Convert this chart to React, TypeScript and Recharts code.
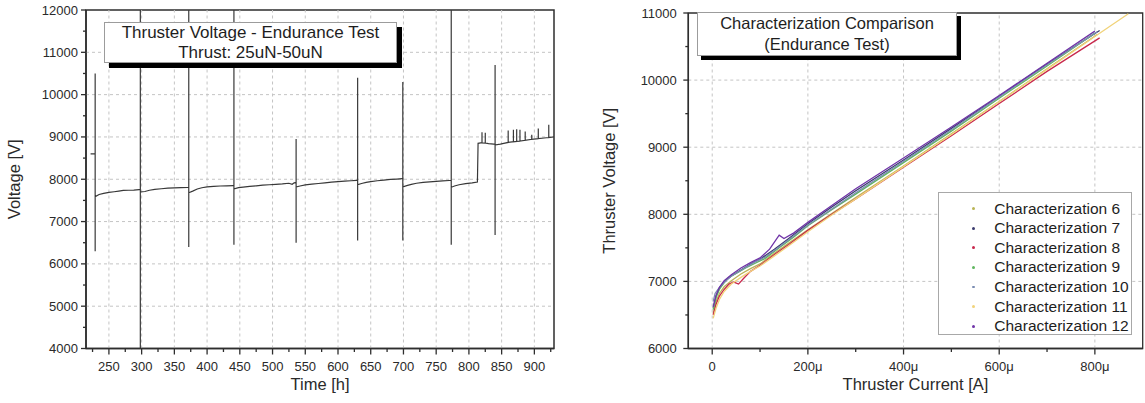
import React from 'react';
import { LineChart, Line, XAxis, YAxis, ReferenceLine, ReferenceArea, Legend, Label } from 'recharts';

const FONT = '"Liberation Sans", Arial, Helvetica, sans-serif';
const AXIS = '#2e2e2e';
const GRID = '#c4c4c4';
const TXT = '#2a2a2a';

// ---------------- Left chart: endurance test trace ----------------
// [time h, voltage V]
const enduranceTrace: [number, number][] = [
  [222, 8600], [229, 8600], [229, 10500], [229, 6300], [229, 7590],
  [235, 7640], [242, 7665], [250, 7690], [258, 7705], [265, 7720], [272, 7735], [280, 7740], [288, 7745], [296, 7755],
  [298, 7755], [298, 12000], [298, 4000], [298, 7700],
  [305, 7710], [312, 7740], [320, 7760], [330, 7775], [340, 7790], [350, 7795], [360, 7800], [370, 7805],
  [372, 7805], [372, 12000], [372, 6400], [372, 7680],
  [378, 7720], [385, 7770], [392, 7800], [400, 7820], [410, 7830], [420, 7840], [430, 7845], [440, 7850],
  [441, 7850], [441, 12000], [441, 6450], [441, 7770],
  [448, 7800], [455, 7815], [465, 7830], [475, 7845], [485, 7860], [495, 7870], [505, 7880], [515, 7890], [525, 7905], [530, 7880], [533, 7915], [535, 7920],
  [536, 7920], [536, 8950], [536, 6500], [536, 7820],
  [542, 7840], [550, 7865], [560, 7885], [570, 7900], [580, 7915], [590, 7930], [600, 7945], [610, 7955], [620, 7965], [628, 7975],
  [630, 7975], [630, 10400], [630, 6550], [630, 7870],
  [636, 7900], [643, 7925], [650, 7945], [660, 7965], [670, 7980], [680, 7995], [690, 8005], [698, 8015],
  [699, 8015], [699, 10300], [699, 6550], [699, 7820],
  [705, 7850], [712, 7880], [720, 7905], [730, 7925], [740, 7940], [750, 7950], [760, 7960], [770, 7970],
  [773, 7970], [773, 12000], [773, 6450], [773, 7810],
  [778, 7840], [785, 7870], [795, 7895], [805, 7915], [813, 7935],
  [814, 8850], [818, 8860], [820, 8860], [820, 9110], [820, 8860], [825, 8855], [825, 9100], [825, 8855], [830, 8840], [838, 8830],
  [840, 8830], [840, 10700], [840, 6680], [840, 8810],
  [848, 8830], [855, 8855], [860, 8870], [860, 9150], [860, 8870], [866, 8885], [868, 8885], [868, 9170], [868, 8885],
  [873, 8895], [873, 9180], [873, 8895], [878, 8900], [878, 9170], [878, 8900], [886, 8920], [886, 9130], [886, 8920],
  [896, 8945], [896, 9050], [896, 8945], [906, 8960], [906, 9200], [906, 8960], [915, 8975], [922, 8985], [922, 9290], [922, 8985], [930, 9000],
];

const timeDomain: [number, number] = [215, 930];
const timeMajorTicks = [250, 300, 350, 400, 450, 500, 550, 600, 650, 700, 750, 800, 850, 900];
const timeMinorTicks = [225, 275, 325, 375, 425, 475, 525, 575, 625, 675, 725, 775, 825, 875, 925];
const voltDomain: [number, number] = [4000, 12000];
const voltMajorTicks = [4000, 5000, 6000, 7000, 8000, 9000, 10000, 11000, 12000];
const voltMinorTicks = [4500, 5500, 6500, 7500, 8500, 9500, 10500, 11500];
const voltGrid = [5000, 6000, 7000, 8000, 9000, 10000, 11000];

// ---------------- Right chart: characterization comparison ----------------
// [current µA, voltage V]
const char6: [number, number][] = [[2, 6520], [8, 6700], [15, 6820], [25, 6920], [40, 7010], [60, 7110], [80, 7190], [100, 7260], [130, 7420], [160, 7570], [200, 7770], [250, 8010], [300, 8250], [400, 8720], [500, 9200], [600, 9680], [700, 10170], [805, 10680]];
const char7: [number, number][] = [[2, 6600], [8, 6780], [15, 6900], [25, 6990], [40, 7080], [60, 7170], [80, 7260], [100, 7330], [130, 7480], [160, 7640], [200, 7860], [250, 8110], [300, 8350], [400, 8810], [500, 9280], [600, 9760], [700, 10240], [810, 10740]];
const char8: [number, number][] = [[2, 6500], [8, 6660], [15, 6780], [25, 6880], [35, 6960], [45, 6990], [55, 6960], [65, 7040], [80, 7150], [100, 7240], [130, 7400], [160, 7550], [200, 7760], [250, 8000], [300, 8230], [400, 8700], [500, 9170], [600, 9650], [700, 10130], [810, 10630]];
const char9: [number, number][] = [[2, 6580], [8, 6760], [15, 6880], [25, 6980], [35, 7060], [50, 7120], [70, 7200], [90, 7270], [110, 7340], [140, 7500], [170, 7660], [200, 7830], [250, 8070], [300, 8300], [400, 8770], [500, 9240], [600, 9730], [700, 10210], [800, 10700]];
const char10: [number, number][] = [[2, 6700], [6, 6820], [12, 6880], [20, 6950], [30, 7020], [40, 7080], [55, 7140], [70, 7210], [90, 7290], [110, 7360], [130, 7460], [160, 7620], [200, 7840], [250, 8080], [300, 8320], [400, 8790], [500, 9260], [600, 9750], [700, 10230], [805, 10720]];
const char11: [number, number][] = [[2, 6450], [8, 6600], [15, 6730], [25, 6850], [40, 6960], [60, 7060], [80, 7150], [100, 7230], [130, 7380], [160, 7530], [200, 7740], [250, 7990], [300, 8230], [400, 8710], [500, 9190], [600, 9680], [700, 10160], [800, 10650], [870, 10990]];
const char12: [number, number][] = [[2, 6620], [8, 6790], [15, 6910], [25, 7010], [40, 7100], [60, 7200], [80, 7280], [100, 7350], [120, 7480], [140, 7690], [150, 7640], [170, 7720], [200, 7880], [250, 8130], [300, 8380], [400, 8840], [500, 9300], [600, 9770], [700, 10250], [800, 10730]];

const charNames = ['Characterization 6', 'Characterization 7', 'Characterization 8', 'Characterization 9', 'Characterization 10', 'Characterization 11', 'Characterization 12'];
const charColors = ['#b9b455', '#3b3b6e', '#c8284c', '#5fb65f', '#7a8cb2', '#f1d37a', '#7034a8'];
const charSeries = [char6, char7, char8, char9, char10, char11, char12];

const currentDomain: [number, number] = [-50, 900];
const currentMajorTicks = [0, 200, 400, 600, 800];
const currentMinorTicks = [100, 300, 500, 700];
const tvDomain: [number, number] = [6000, 11000];
const tvMajorTicks = [6000, 7000, 8000, 9000, 10000, 11000];
const tvMinorTicks = [6500, 7500, 8500, 9500, 10500];
const tvGrid = [7000, 8000, 9000, 10000];

// ---------------- helpers ----------------
const makeXTick = (majors: number[], fmt: (v: number) => string, dy: number) => (props: any) => {
  const { x, y, payload } = props;
  const v = payload.value;
  const major = majors.includes(v);
  return (
    <g>
      <line x1={x} y1={y} x2={x} y2={y + (major ? 6 : 3.5)} stroke={AXIS} strokeWidth={1.3} />
      {major && (
        <text x={x} y={y + dy} textAnchor="middle" fontSize={13} fontFamily={FONT} fill={TXT}>{fmt(v)}</text>
      )}
    </g>
  );
};

const makeYTick = (majors: number[], gap: number) => (props: any) => {
  const { x, y, payload } = props;
  const v = payload.value;
  const major = majors.includes(v);
  return (
    <g>
      <line x1={x} y1={y} x2={x - (major ? 5 : 3)} y2={y} stroke={AXIS} strokeWidth={1.3} />
      {major && (
        <text x={x - gap} y={y + 4.5} textAnchor="end" fontSize={13} fontFamily={FONT} fill={TXT}>{v}</text>
      )}
    </g>
  );
};

const xTitle = (text: string, dy: number) => (props: any) => {
  const vb = props.viewBox;
  return (
    <text x={vb.x + vb.width / 2} y={vb.y + dy} textAnchor="middle" fontSize={16.5} fontFamily={FONT} fill={TXT}>{text}</text>
  );
};

const yTitle = (text: string, dx: number) => (props: any) => {
  const vb = props.viewBox;
  const cx = vb.x + dx;
  const cy = vb.y + vb.height / 2;
  return (
    <text x={cx} y={cy} transform={`rotate(-90 ${cx} ${cy})`} textAnchor="middle" dominantBaseline="central" fontSize={16.5} fontFamily={FONT} fill={TXT}>{text}</text>
  );
};

const legendContent = (props: any) => {
  const payload = [...(props.payload || [])].sort(
    (a: any, b: any) => charNames.indexOf(a.value) - charNames.indexOf(b.value)
  );
  return (
    <div style={{ width: 194, height: 143, boxSizing: 'border-box', border: '1px solid #a8a8a8', background: '#fff', paddingTop: 6, fontFamily: FONT }}>
      {payload.map((e: any) => (
        <div key={e.value} style={{ height: 19.6, position: 'relative' }}>
          <span style={{ position: 'absolute', left: 33, top: 8.5, width: 2.8, height: 2.8, borderRadius: 2, background: e.color }} />
          <span style={{ position: 'absolute', left: 55, top: 0, fontSize: 15.5, lineHeight: '19.6px', color: '#1e1e1e', whiteSpace: 'nowrap' }}>{e.value}</span>
        </div>
      ))}
    </div>
  );
};

export default function App() {
  const leftData = enduranceTrace.map(([t, v]) => ({ t, v }));
  return (
    <div style={{ position: 'absolute', left: 0, top: 0, width: 1145, height: 403, background: '#fff', fontFamily: FONT, overflow: 'hidden' }}>
      {/* Left chart */}
      <div style={{ position: 'absolute', left: 0, top: 0 }}>
        <LineChart width={560} height={403} data={leftData} margin={{ top: 10, right: 6, bottom: 0, left: 0 }}>
          {timeMajorTicks.map((t) => (
            <ReferenceLine key={'gx' + t} x={t} stroke={GRID} strokeDasharray="3 3" strokeWidth={1} />
          ))}
          {voltGrid.map((v) => (
            <ReferenceLine key={'gy' + v} y={v} stroke={GRID} strokeDasharray="3 3" strokeWidth={1} />
          ))}
          <XAxis
            dataKey="t"
            type="number"
            domain={timeDomain}
            allowDataOverflow
            ticks={[...timeMinorTicks, ...timeMajorTicks].sort((a, b) => a - b)}
            interval={0}
            tickSize={0}
            tickMargin={0}
            tickLine={false}
            height={54.5}
            axisLine={{ stroke: AXIS, strokeWidth: 1.5 }}
            tick={makeXTick(timeMajorTicks, (v) => String(v), 22)}
          >
            <Label content={xTitle('Time [h]', 41)} />
          </XAxis>
          <YAxis
            type="number"
            domain={voltDomain}
            allowDataOverflow
            ticks={[...voltMinorTicks, ...voltMajorTicks].sort((a, b) => a - b)}
            interval={0}
            tickSize={0}
            tickMargin={0}
            tickLine={false}
            width={86}
            axisLine={{ stroke: AXIS, strokeWidth: 1.5 }}
            tick={makeYTick(voltMajorTicks, 8)}
          >
            <Label content={yTitle('Voltage [V]', 14)} />
          </YAxis>
          <ReferenceArea x1={timeDomain[0]} x2={timeDomain[1]} y1={voltDomain[0]} y2={voltDomain[1]} fill="none" fillOpacity={0} stroke={AXIS} strokeWidth={1.5} />
          <Line type="linear" dataKey="v" stroke="#383838" strokeWidth={1.2} dot={false} isAnimationActive={false} />
        </LineChart>
      </div>
      <div style={{ position: 'absolute', left: 104, top: 22, width: 293, height: 41, boxSizing: 'border-box', border: '1px solid #9c9c9c', background: '#fff', boxShadow: '5px 5px 0 #000', textAlign: 'center', fontSize: 17, lineHeight: '20px', color: '#1e1e1e', zIndex: 5 }}>
        <div>Thruster Voltage - Endurance Test</div>
        <div>Thrust: 25uN-50uN</div>
      </div>

      {/* Right chart */}
      <div style={{ position: 'absolute', left: 580, top: 0 }}>
        <LineChart width={565} height={403} margin={{ top: 13, right: 2.3, bottom: 0, left: 0 }}>
          {currentMajorTicks.map((c) => (
            <ReferenceLine key={'cx' + c} x={c} stroke={GRID} strokeDasharray="3 3" strokeWidth={1} />
          ))}
          {tvGrid.map((v) => (
            <ReferenceLine key={'cy' + v} y={v} stroke={GRID} strokeDasharray="3 3" strokeWidth={1} />
          ))}
          <XAxis
            dataKey="i"
            type="number"
            domain={currentDomain}
            allowDataOverflow
            ticks={[...currentMinorTicks, ...currentMajorTicks].sort((a, b) => a - b)}
            interval={0}
            tickSize={0}
            tickMargin={0}
            tickLine={false}
            height={54.5}
            axisLine={{ stroke: AXIS, strokeWidth: 1.5 }}
            tick={makeXTick(currentMajorTicks, (v) => (v === 0 ? '0' : `${v}μ`), 22.5)}
          >
            <Label content={xTitle('Thruster Current [A]', 41.5)} />
          </XAxis>
          <YAxis
            type="number"
            domain={tvDomain}
            allowDataOverflow
            ticks={[...tvMinorTicks, ...tvMajorTicks].sort((a, b) => a - b)}
            interval={0}
            tickSize={0}
            tickMargin={0}
            tickLine={false}
            width={108.3}
            axisLine={{ stroke: AXIS, strokeWidth: 1.5 }}
            tick={makeYTick(tvMajorTicks, 11.5)}
          >
            <Label content={yTitle('Thruster Voltage [V]', 29)} />
          </YAxis>
          <ReferenceArea x1={currentDomain[0]} x2={currentDomain[1]} y1={tvDomain[0]} y2={tvDomain[1]} fill="none" fillOpacity={0} stroke={AXIS} strokeWidth={1.3} />
          {charSeries.map((s, k) => (
            <Line
              key={charNames[k]}
              name={charNames[k]}
              data={s.map(([i, v]) => ({ i, v }))}
              dataKey="v"
              type="linear"
              stroke={charColors[k]}
              strokeWidth={1.3}
              dot={false}
              isAnimationActive={false}
            />
          ))}
          <Legend
            layout="vertical"
            align="center"
            verticalAlign="middle"
            content={legendContent}
            wrapperStyle={{ left: 358.3, top: 191.7, width: 194, height: 143 }}
          />
        </LineChart>
      </div>
      <div style={{ position: 'absolute', left: 697, top: 12, width: 260, height: 44, boxSizing: 'border-box', border: '1px solid #9c9c9c', background: '#fff', boxShadow: '4px 4px 0 #000', textAlign: 'center', fontSize: 16.5, lineHeight: '21px', color: '#1e1e1e', zIndex: 5 }}>
        <div>Characterization Comparison</div>
        <div>(Endurance Test)</div>
      </div>
    </div>
  );
}
